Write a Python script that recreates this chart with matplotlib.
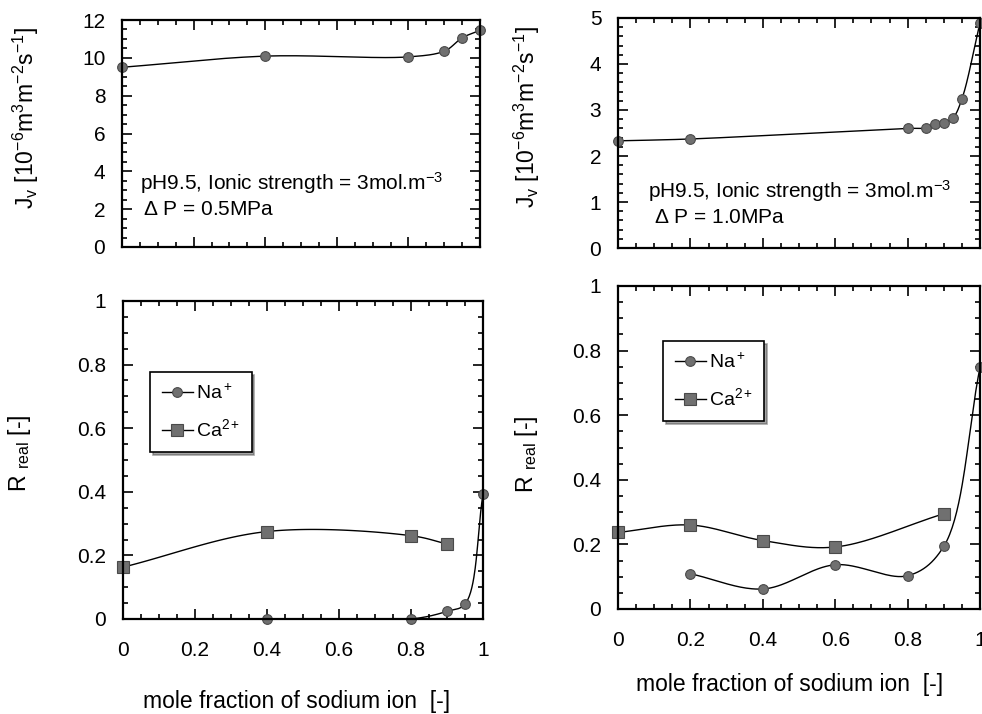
import numpy as np
import matplotlib
matplotlib.use("Agg")
import matplotlib.pyplot as plt
from matplotlib.ticker import MultipleLocator

plt.rcParams["font.family"] = ["Liberation Sans", "DejaVu Sans"]
plt.rcParams["mathtext.fontset"] = "custom"
plt.rcParams["mathtext.rm"] = "Liberation Sans"
plt.rcParams["mathtext.it"] = "Liberation Sans"
plt.rcParams["mathtext.default"] = "regular"

# Top left: flux at dP = 0.5 MPa
jv05_x = [0.0, 0.4, 0.8, 0.9, 0.95, 1.0]
jv05_y = [9.5, 10.09, 10.05, 10.35, 11.06, 11.45]

# Top right: flux at dP = 1.0 MPa
jv10_x = [0.0, 0.2, 0.8, 0.85, 0.875, 0.9, 0.925, 0.95, 1.0]
jv10_y = [2.33, 2.37, 2.60, 2.61, 2.70, 2.72, 2.83, 3.24, 4.9]

# Bottom left: rejection at 0.5 MPa
na05_x = [0.4, 0.8, 0.9, 0.95, 1.0]
na05_y = [0.0, 0.0, 0.024, 0.047, 0.392]
ca05_x = [0.0, 0.4, 0.8, 0.9]
ca05_y = [0.163, 0.275, 0.262, 0.236]

# Bottom right: rejection at 1.0 MPa
na10_x = [0.2, 0.4, 0.6, 0.8, 0.9, 1.0]
na10_y = [0.109, 0.062, 0.137, 0.103, 0.194, 0.748]
ca10_x = [0.0, 0.2, 0.4, 0.6, 0.9]
ca10_y = [0.237, 0.26, 0.212, 0.192, 0.295]

MARKER_FC = "#707070"
MARKER_EC = "#4a4a4a"


def smooth(x, y, yspan, n=40):
    """centripetal Catmull-Rom curve through the points (drawn line only)"""
    p = np.column_stack([np.asarray(x, float), np.asarray(y, float) / yspan])
    p = np.vstack([2 * p[0] - p[1], p, 2 * p[-1] - p[-2]])
    out = []
    for i in range(1, len(p) - 2):
        p0, p1, p2, p3 = p[i - 1], p[i], p[i + 1], p[i + 2]
        t0 = 0.0
        t1 = t0 + np.linalg.norm(p1 - p0) ** 0.5
        t2 = t1 + np.linalg.norm(p2 - p1) ** 0.5
        t3 = t2 + np.linalg.norm(p3 - p2) ** 0.5
        t = np.linspace(t1, t2, n)[:, None]
        a1 = (t1 - t) / (t1 - t0) * p0 + (t - t0) / (t1 - t0) * p1
        a2 = (t2 - t) / (t2 - t1) * p1 + (t - t1) / (t2 - t1) * p2
        a3 = (t3 - t) / (t3 - t2) * p2 + (t - t2) / (t3 - t2) * p3
        b1 = (t2 - t) / (t2 - t0) * a1 + (t - t0) / (t2 - t0) * a2
        b2 = (t3 - t) / (t3 - t1) * a2 + (t - t1) / (t3 - t1) * a3
        c = (t2 - t) / (t2 - t1) * b1 + (t - t1) / (t2 - t1) * b2
        out.append(c)
    c = np.vstack(out)
    return c[:, 0], c[:, 1] * yspan


def style(ax, ymax, ymajor, yminor, xlabels=True):
    ax.set_xlim(0, 1)
    ax.set_ylim(0, ymax)
    ax.xaxis.set_major_locator(MultipleLocator(0.2))
    ax.xaxis.set_minor_locator(MultipleLocator(0.05))
    ax.yaxis.set_major_locator(MultipleLocator(ymajor))
    ax.yaxis.set_minor_locator(MultipleLocator(yminor))
    ax.tick_params(which="both", direction="in", top=True, right=True,
                   labelsize=15, width=1.2)
    ax.tick_params(axis="y", pad=12)
    ax.tick_params(axis="x", pad=16)
    ax.tick_params(which="major", length=7)
    ax.tick_params(which="minor", length=3.5)
    ax.xaxis.set_major_formatter(plt.FuncFormatter(lambda v, _: f"{v:g}"))
    ax.yaxis.set_major_formatter(plt.FuncFormatter(lambda v, _: f"{v:g}"))
    if not xlabels:
        ax.tick_params(labelbottom=False)
    for s in ax.spines.values():
        s.set_linewidth(1.6)


def series(ax, x, y, yspan, marker, ms, label=None):
    sx, sy = smooth(x, y, yspan)
    ax.plot(sx, sy, color="black", lw=1.0)
    ax.plot(x, y, ls="none", marker=marker, ms=ms, mfc=MARKER_FC,
            mec=MARKER_EC, mew=0.8, clip_on=False)
    # proxy for legend
    if label:
        ax.plot([], [], color="black", lw=1.0, marker=marker, ms=ms,
                mfc=MARKER_FC, mec=MARKER_EC, mew=0.8, label=label)


def legend(ax, anchor):
    leg = ax.legend(loc="upper left", bbox_to_anchor=anchor, fontsize=14,
                    frameon=True, fancybox=False, shadow=True,
                    edgecolor="black", handlelength=1.6, handletextpad=0.15,
                    borderpad=0.6, borderaxespad=0, labelspacing=0.8)
    leg.get_frame().set_linewidth(1.2)


fig = plt.figure(figsize=(9.82, 7.14), dpi=100)

ax1 = fig.add_axes([122 / 982, 467 / 714, 358 / 982, 227 / 714])
ax2 = fig.add_axes([618 / 982, 466 / 714, 362 / 982, 230 / 714])
ax3 = fig.add_axes([123 / 982, 95 / 714, 360 / 982, 318 / 714])
ax4 = fig.add_axes([618 / 982, 105 / 714, 362 / 982, 323 / 714])

jv_label = r"J$_v$ [10$^{-6}$m$^3$m$^{-2}$s$^{-1}$]"
r_label = r"R $_{real}$ [-]"
x_label = "mole fraction of sodium ion  [-]"

# top left
style(ax1, 12, 2, 0.5, xlabels=False)
series(ax1, jv05_x, jv05_y, 12, "o", 7)
ax1.set_ylabel(jv_label, fontsize=16.5)
ax1.yaxis.set_label_coords(-0.225, 0.57)
ax1.text(0.05, 0.25, r"pH9.5, Ionic strength = 3mol.m$^{-3}$",
         transform=ax1.transAxes, fontsize=15, va="baseline")
ax1.text(0.058, 0.14, r"$\Delta$ P = 0.5MPa",
         transform=ax1.transAxes, fontsize=15, va="baseline")

# top right
style(ax2, 5, 1, 0.2, xlabels=False)
series(ax2, jv10_x, jv10_y, 5, "o", 7)
ax2.set_ylabel(jv_label, fontsize=16.5)
ax2.yaxis.set_label_coords(-0.21, 0.57)
ax2.text(0.083, 0.22, r"pH9.5, Ionic strength = 3mol.m$^{-3}$",
         transform=ax2.transAxes, fontsize=15, va="baseline")
ax2.text(0.10, 0.11, r"$\Delta$ P = 1.0MPa",
         transform=ax2.transAxes, fontsize=15, va="baseline")

# bottom left
style(ax3, 1, 0.2, 0.05)
series(ax3, na05_x, na05_y, 1, "o", 7, r"Na$^+$")
series(ax3, ca05_x, ca05_y, 1, "s", 9, r"Ca$^{2+}$")
ax3.set_ylabel(r_label, fontsize=16.5)
ax3.yaxis.set_label_coords(-0.25, 0.52)
ax3.set_xlabel(x_label, fontsize=16.5)
ax3.xaxis.set_label_coords(0.483, -0.222)
legend(ax3, (0.075, 0.777))

# bottom right
style(ax4, 1, 0.2, 0.05)
series(ax4, na10_x, na10_y, 1, "o", 7, r"Na$^+$")
series(ax4, ca10_x, ca10_y, 1, "s", 9, r"Ca$^{2+}$")
ax4.set_ylabel(r_label, fontsize=16.5)
ax4.yaxis.set_label_coords(-0.215, 0.48)
ax4.set_xlabel(x_label, fontsize=16.5)
ax4.xaxis.set_label_coords(0.475, -0.198)
legend(ax4, (0.124, 0.83))

fig.savefig("out.png", dpi=100)
